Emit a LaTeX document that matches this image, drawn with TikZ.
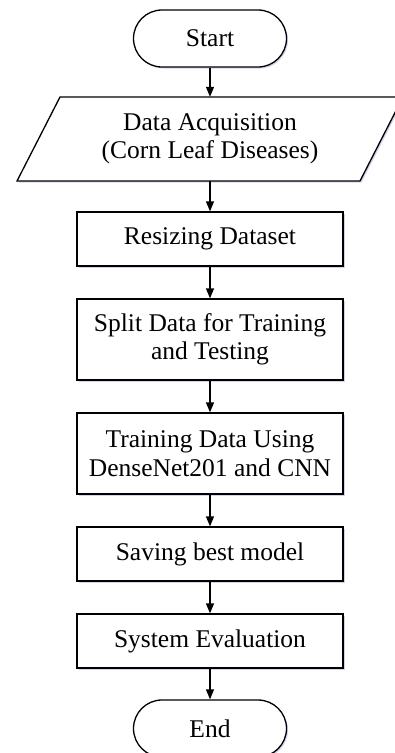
\documentclass[tikz,border=0pt]{standalone}
\usepackage{fontspec}
\setmainfont{Liberation Serif}
\usetikzlibrary{arrows.meta,shadows}
\begin{document}
\begin{tikzpicture}[x=1pt,y=-1pt,
  lw/.style={line width=1.3pt},
  shad/.style={drop shadow={opacity=0.25,shadow xshift=1.5pt,shadow yshift=-1.5pt,fill=blue!40!gray}},
  txt/.style={font=\fontsize{25.5}{28.5}\selectfont,align=center,inner sep=0pt},
  procbox/.style={txt,lw,draw=black,fill=white,shad,minimum width=266pt},
  termbox/.style={txt,lw,draw=black,fill=white,shad,minimum width=153pt,minimum height=57pt,rounded corners=28.5pt},
  arr/.style={lw,-{Triangle[length=10pt,width=8pt]}}]
\useasboundingbox (0,0) rectangle (395,753);
\begin{scope}
\clip (0,0) rectangle (395,753);
% parallelogram
\coordinate (p1) at (60,97);
\coordinate (p2) at (403,97);
\coordinate (p3) at (360,181);
\coordinate (p4) at (17,181);
\fill[blue!40!gray,opacity=0.25] ([shift={(1.5,1.5)}]p1) -- ([shift={(1.5,1.5)}]p2) -- ([shift={(1.5,1.5)}]p3) -- ([shift={(1.5,1.5)}]p4) -- cycle;
\draw[lw,fill=white] (p1) -- (p2) -- (p3) -- (p4) -- cycle;
\node[txt,minimum width=266pt,minimum height=84pt] (acq) at (210,139) {Data Acquisition\\(Corn Leaf Diseases)};
\node[termbox] (start) at (210,38.5) {Start};
\node[procbox,minimum height=54pt] (resize) at (210,239) {Resizing Dataset};
\node[procbox,minimum height=81pt] (split) at (210,339.5) {Split Data for Training\\and Testing};
\node[procbox,minimum height=81pt] (train) at (210,453.5) {Training Data Using\\DenseNet201 and CNN};
\node[procbox,minimum height=54pt] (save) at (210,554) {Saving best model};
\node[procbox,minimum height=54pt] (eval) at (210,641) {System Evaluation};
\node[termbox] (end) at (210,728.5) {End};
\draw[arr] (start) -- (acq);
\draw[arr] (acq) -- (resize);
\draw[arr] (resize) -- (split);
\draw[arr] (split) -- (train);
\draw[arr] (train) -- (save);
\draw[arr] (save) -- (eval);
\draw[arr] (eval) -- (end);
\end{scope}
\end{tikzpicture}
\end{document}
